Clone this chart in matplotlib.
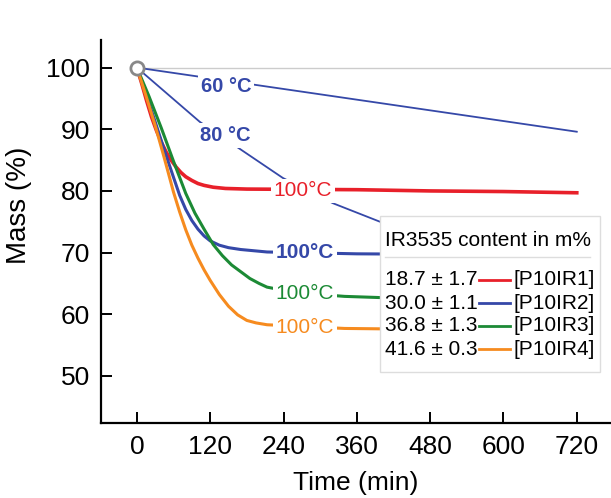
import matplotlib
matplotlib.use("Agg")
from matplotlib import pyplot as plt
from matplotlib.patches import Rectangle

plt.rcParams['font.family'] = ['Liberation Sans', 'DejaVu Sans']

# 100 degC curves
t_ir1 = [0, 8, 16, 24, 32, 40, 48, 56, 64, 72, 80, 90, 100, 110, 125, 145, 180, 360, 480, 600, 720]
m_ir1 = [100, 97.4, 94.6, 92.0, 89.8, 87.9, 86.3, 85.0, 83.9, 83.0, 82.3, 81.7, 81.2, 80.9, 80.6,
         80.4, 80.3, 80.2, 80.0, 79.9, 79.7]

t_ir2 = [0, 15, 30, 45, 60, 70, 80, 90, 100, 110, 120, 135, 150, 170, 213, 360, 720]
m_ir2 = [100, 95.7, 91.2, 86.6, 82.2, 79.3, 77.0, 75.2, 73.8, 72.7, 71.9, 71.2, 70.8, 70.5, 70.1,
         69.8, 69.6]

t_ir3 = [0, 20, 40, 60, 80, 95, 110, 125, 140, 155, 170, 185, 200, 213, 260, 340, 400, 720]
m_ir3 = [100, 95.3, 90.2, 84.8, 79.6, 76.4, 73.8, 71.3, 69.5, 68.0, 66.9, 65.8, 65.0, 64.4, 63.5,
         62.9, 62.7, 62.3]

t_ir4 = [0, 15, 30, 45, 60, 70, 80, 90, 100, 110, 120, 135, 150, 165, 180, 195, 213, 340, 720]
m_ir4 = [100, 95.4, 90.6, 85.3, 79.8, 76.6, 73.7, 71.2, 69.1, 67.2, 65.5, 63.2, 61.3, 59.9, 59.0,
         58.6, 58.3, 57.7, 57.3]

# 60 and 80 degC (P10IR2)
t_60 = [0, 720]
m_60 = [100, 89.6]
t_80 = [0, 103, 239, 321, 398, 500, 720]
m_80 = [100, 91.2, 82.1, 78.0, 75.0, 72.5, 67.0]

colors = ["#e8202a", "#3548a8", "#1c8a35", "#f68b1f"]
contents = ["18.7 ± 1.7", "30.0 ± 1.1", "36.8 ± 1.3", "41.6 ± 0.3"]
samples = ["[P10IR1]", "[P10IR2]", "[P10IR3]", "[P10IR4]"]

fig = plt.figure(figsize=(6.11, 4.98), dpi=100)
ax = fig.add_axes([0.165, 0.151, 0.835, 0.769])

ax.axhline(100, xmin=59 / 835, color="#cccccc", lw=1, zorder=1)

ax.plot(t_60, m_60, color=colors[1], lw=1.3, zorder=2)
ax.plot(t_80, m_80, color=colors[1], lw=1.3, zorder=2)
ax.plot(t_ir1, m_ir1, color=colors[0], lw=2.6, zorder=3)
ax.plot(t_ir2, m_ir2, color=colors[1], lw=2.2, zorder=3)
ax.plot(t_ir3, m_ir3, color=colors[2], lw=2.2, zorder=3)
ax.plot(t_ir4, m_ir4, color=colors[3], lw=2.2, zorder=3)
ax.plot([0], [100], "o", ms=9.5, mfc="white", mec="#888888", mew=2, zorder=6)

box = dict(fc="white", ec="none", pad=2)
ax.text(146, 96.9, "60 °C", color=colors[1], fontsize=14.5, fontweight="bold",
        ha="center", va="center", bbox=box, zorder=4)
ax.text(144, 89.0, "80 °C", color=colors[1], fontsize=14.5, fontweight="bold",
        ha="center", va="center", bbox=box, zorder=4)
ax.text(272, 80.0, "100°C", color=colors[0], fontsize=15,
        ha="center", va="center", bbox=box, zorder=4)
ax.text(275, 70.0, "100°C", color=colors[1], fontsize=15, fontweight="bold",
        ha="center", va="center", bbox=box, zorder=4)
ax.text(275, 63.4, "100°C", color=colors[2], fontsize=15,
        ha="center", va="center", bbox=box, zorder=4)
ax.text(275, 57.9, "100°C", color=colors[3], fontsize=15,
        ha="center", va="center", bbox=box, zorder=4)

# legend box
ax.add_patch(Rectangle((398, 50.7), 360, 25.2, fc="white", ec="#dddddd",
                       lw=1, zorder=7, clip_on=False))
ax.text(406, 71.9, "IR3535 content in m%", fontsize=15, ha="left", va="center", zorder=8)
ax.plot([406, 741], [69.3, 69.3], color="#dddddd", lw=1, zorder=8)
rows_y = [65.6, 61.8, 58.1, 54.3]
for c, txt, s, yy in zip(colors, contents, samples, rows_y):
    ax.text(406, yy, txt, fontsize=15, ha="left", va="center", zorder=8)
    ax.plot([560, 610], [yy, yy], color=c, lw=2, zorder=8)
    ax.text(617, yy, s, fontsize=15, ha="left", va="center", zorder=8)

ax.set_xlim(-59, 776)
ax.set_ylim(42.4, 104.5)
ax.set_xticks(range(0, 721, 120))
ax.set_yticks(range(50, 101, 10))
ax.spines["top"].set_visible(False)
ax.spines["right"].set_visible(False)
ax.spines["left"].set_linewidth(1.6)
ax.spines["bottom"].set_linewidth(1.6)
ax.tick_params(direction="in", length=8, width=1.4, labelsize=19)
ax.tick_params(axis="x", pad=9)
ax.tick_params(axis="y", pad=8)
ax.set_xlabel("Time (min)", fontsize=19)
ax.set_ylabel("Mass (%)", fontsize=20)
ax.xaxis.set_label_coords(0.5, -0.125)
ax.yaxis.set_label_coords(-0.135, 0.567)

plt.savefig("out.png")
